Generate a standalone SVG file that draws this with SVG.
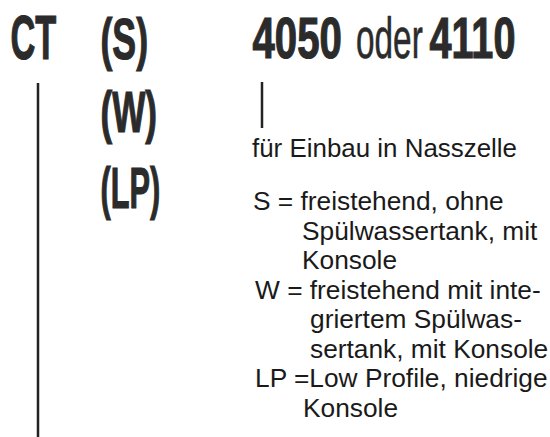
<svg xmlns="http://www.w3.org/2000/svg" width="550" height="437" viewBox="0 0 550 437">
<style>
.h{font-family:"Liberation Sans",Arial,sans-serif;font-weight:bold;fill:#2b2b2b;stroke:#2b2b2b;stroke-width:1.2}
.r{font-family:"Liberation Sans",Arial,sans-serif;font-weight:normal;fill:#2b2b2b;stroke:#2b2b2b;stroke-width:0.6}
.t{font-family:"Liberation Sans",Arial,sans-serif;font-size:26.3px;fill:#1a1a1a}
.ln{stroke:#222;stroke-width:2.5;fill:none}
</style>
<rect width="550" height="437" fill="#fff"/>
<g id="connectors">
<line class="ln" x1="38" y1="83" x2="38" y2="437"/>
<line class="ln" x1="262" y1="82" x2="262" y2="128"/>
</g>
<g id="ct"><text class="h" font-size="63" transform="translate(10.5,59) scale(0.545,1)">CT</text></g>
<g id="s"><text class="h" font-size="58" transform="translate(100.5,59) scale(0.615,1)">(S)</text></g>
<g id="w"><text class="h" font-size="58" transform="translate(100.5,132) scale(0.605,1)">(W)</text></g>
<g id="lp"><text class="h" font-size="58" transform="translate(100.5,208) scale(0.53,1)">(LP)</text></g>
<g id="model">
<text class="h" font-size="57" transform="translate(252.5,58) scale(0.705,1)">4050</text>
<text class="r" font-size="57" transform="translate(356,58) scale(0.585,1)">oder</text>
<text class="h" font-size="57" transform="translate(429.5,58) scale(0.695,1)">4110</text>
</g>
<g id="note"><text class="t" x="252" y="157" textLength="265" lengthAdjust="spacingAndGlyphs">für Einbau in Nasszelle</text></g>
<g id="legend">
<text class="t" x="253" y="210">S = freistehend, ohne</text>
<text class="t" x="302" y="239.5">Spülwassertank, mit</text>
<text class="t" x="302" y="269">Konsole</text>
<text class="t" x="255" y="298.5">W = freistehend mit inte-</text>
<text class="t" x="310" y="328">griertem Spülwas-</text>
<text class="t" x="310" y="357.5">sertank, mit Konsole</text>
<text class="t" x="255" y="387">LP =Low Profile, niedrige</text>
<text class="t" x="303" y="416.5">Konsole</text>
</g>
</svg>
